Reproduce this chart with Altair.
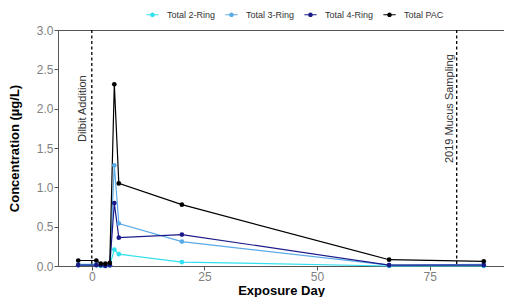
import altair as alt
import pandas as pd

days = [-3, 1, 2, 3, 4, 5, 6, 20, 66, 87]
ring2 = [0.01, 0.01, 0.0, 0.0, 0.01, 0.21, 0.15, 0.05, 0.0, 0.0]
ring3 = [0.02, 0.02, 0.01, 0.01, 0.01, 1.28, 0.54, 0.31, 0.01, 0.02]
ring4 = [0.01, 0.01, 0.01, 0.0, 0.01, 0.80, 0.36, 0.40, 0.01, 0.01]
pac = [0.07, 0.07, 0.03, 0.03, 0.04, 2.31, 1.05, 0.78, 0.08, 0.06]

series_names = ["Total 2-Ring", "Total 3-Ring", "Total 4-Ring", "Total PAC"]
series_colors = ["#2FE0EE", "#5AAAE8", "#1A1A8A", "#000000"]

event_days = [0, 81]
event_labels = ["Dilbit Addition", "2019 Mucus Sampling"]
label_days = [-2, 79.6]
label_level = [2.0, 2.0]

x_ticks = [0, 25, 50, 75]
y_ticks = [0, 0.5, 1, 1.5, 2, 2.5, 3]

rows = []
for name, vals in zip(series_names, [ring2, ring3, ring4, pac]):
    for d, v in zip(days, vals):
        rows.append({"day": d, "conc": v, "series": name})
df = pd.DataFrame(rows)
events = pd.DataFrame({"day": event_days})
labels = pd.DataFrame({"day": label_days, "conc": label_level, "text": event_labels})

xs = alt.Scale(domain=[-7.5, 91.5], nice=False, zero=False)
ys = alt.Scale(domain=[0, 3], nice=False)
cs = alt.Scale(domain=series_names, range=series_colors)

x_axis = alt.Axis(values=x_ticks, labelOverlap=False)
y_axis = alt.Axis(values=y_ticks, format=".1f", labelOverlap=False)

x = alt.X("day:Q", scale=xs, title="Exposure Day", axis=x_axis)
y = alt.Y("conc:Q", scale=ys, title="Concentration (µg/L)", axis=y_axis)

symbol_path = ("M-1,-0.1L1,-0.1L1,0.1L-1,0.1Z "
               "M-0.38,0A0.38,0.38 0 1,1 0.38,0A0.38,0.38 0 1,1 -0.38,0Z")

legend = alt.Legend(orient="none", direction="horizontal",
                    columns=4, legendX=88, legendY=-22,
                    symbolType=symbol_path, symbolSize=150,
                    symbolStrokeWidth=0,
                    labelFontSize=9, labelColor="#333333",
                    labelOffset=8, columnPadding=9)
color = alt.Color("series:N", scale=cs, title=None, legend=legend)

lines = alt.Chart(df).mark_line(strokeWidth=1.2).encode(
    x=x, y=y, color=color, detail="series:N",
)
points = alt.Chart(df).mark_point(filled=True, size=22, opacity=1).encode(
    x=x, y=y, color=color,
)
rules = alt.Chart(events).mark_rule(color="black", strokeWidth=1.3,
                                    strokeDash=[3, 2.5]).encode(x=x)
texts = alt.Chart(labels).mark_text(angle=270, fontSize=11, color="#333333",
                                    align="center", baseline="middle").encode(
    x=x, y=y, text="text:N")

chart = alt.layer(rules, texts, lines, points).properties(
    width=446, height=236,
    autosize=alt.AutoSizeParams(type="none"),
    padding={"left": 50, "top": 22, "right": 0, "bottom": 31},
).configure(font="Liberation Sans").configure_view(
    stroke="#555555", strokeWidth=1
).configure_axis(
    domain=False, grid=False, ticks=True, tickColor="#555555", tickSize=4,
    labelColor="#7F7F7F", labelFontSize=12, labelPadding=1,
    titleFontSize=13, titleFontWeight="bold", titleColor="black",
).configure_axisY(titlePadding=15).configure_axisX(titlePadding=2)

chart.save("out.html", embed_options={"renderer": "svg", "actions": False})
